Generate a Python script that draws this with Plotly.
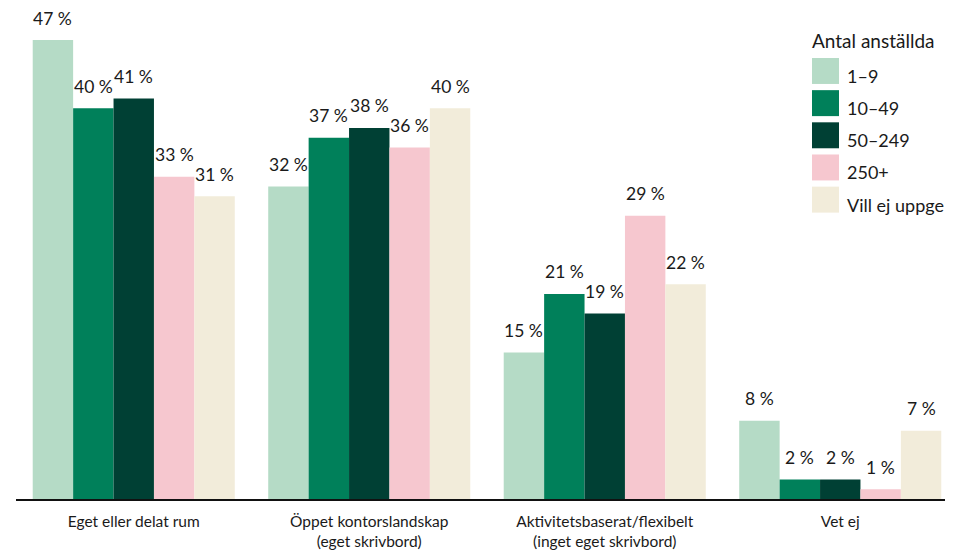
import plotly.graph_objects as go

categories = ["Eget eller delat rum",
              "Öppet kontorslandskap<br>(eget skrivbord)",
              "Aktivitetsbaserat/flexibelt<br>(inget eget skrivbord)",
              "Vet ej"]
groups = ["1–9", "10–49", "50–249", "250+", "Vill ej uppge"]
v_1_9 = [47, 32, 15, 8]
v_10_49 = [40, 37, 21, 2]
v_50_249 = [41, 38, 19, 2]
v_250 = [33, 36, 29, 1]
v_vill_ej = [31, 40, 22, 7]
values = [v_1_9, v_10_49, v_50_249, v_250, v_vill_ej]
colors = ["#b5dbc6", "#00805a", "#004034", "#f6c7cf", "#f2ecda"]

FONT = "Lato"
TXT = "#1a1a1a"

# page body has an 8px margin: figure starts at (8, 8) and runs to the window edge
OFF = 8
FIG_W, FIG_H = 953 - OFF, 552 - OFF
# plot area in figure pixels
L, R, T, B = 8, FIG_W, 32, 491.5
W, H = R - L, B - T
cat_px = 235.5
bargap = 0.142
bar_w = (1 - bargap) / len(groups)

def px(xs):  # screen x -> paper
    return (xs - OFF - L) / W

def py(ys):  # screen y -> paper
    return (B - (ys - OFF)) / H

fig = go.Figure()
for name, vals, col in zip(groups, values, colors):
    fig.add_trace(go.Bar(x=categories, y=vals, name=name, marker_color=col,
                         marker_line_width=0, showlegend=False, cliponaxis=False))

# value labels above bars
annos = []
for j, vals in enumerate(values):
    for i, v in enumerate(vals):
        annos.append(dict(x=i + (j - 2) * bar_w, y=v, xref="x", yref="y",
                          text=f"{v} %", showarrow=False, yanchor="middle",
                          yshift=22, font=dict(family=FONT, size=17.5, color=TXT)))

# legend drawn by hand (big square swatches)
shapes = []
lx = 812
annos.append(dict(x=px(lx), y=py(40), xref="paper", yref="paper",
                  text="Antal anställda", showarrow=False, xanchor="left",
                  yanchor="middle", xshift=-2,
                  font=dict(family=FONT, size=19, color=TXT)))
for k, (name, col) in enumerate(zip(groups, colors)):
    top = 58 + 32.2 * k
    shapes.append(dict(type="rect", xref="paper", yref="paper",
                       x0=px(lx), x1=px(lx + 27), y0=py(top + 26), y1=py(top),
                       fillcolor=col, line_width=0))
    annos.append(dict(x=px(lx + 35), y=py(top + 18), xref="paper", yref="paper",
                      text=name, showarrow=False, xanchor="left", yanchor="middle",
                      xshift=-2, font=dict(family=FONT, size=18, color=TXT)))

fig.update_layout(
    width=FIG_W, height=FIG_H,
    margin=dict(l=L, r=FIG_W - R, t=T, b=FIG_H - B),
    paper_bgcolor="white", plot_bgcolor="white",
    barmode="group", bargap=bargap, bargroupgap=0,
    font=dict(family=FONT, size=16, color=TXT),
    annotations=annos, shapes=shapes,
    xaxis=dict(range=[-0.5, -0.5 + W / cat_px], showline=True, linecolor="#111",
               linewidth=2, showgrid=False, zeroline=False, ticks="",
               automargin=False, ticklabelstandoff=7,
               tickfont=dict(family=FONT, size=15.5, color=TXT)),
    yaxis=dict(range=[0, 47], visible=False, showgrid=False, zeroline=False,
               automargin=False),
)

fig.write_html("out.html")
